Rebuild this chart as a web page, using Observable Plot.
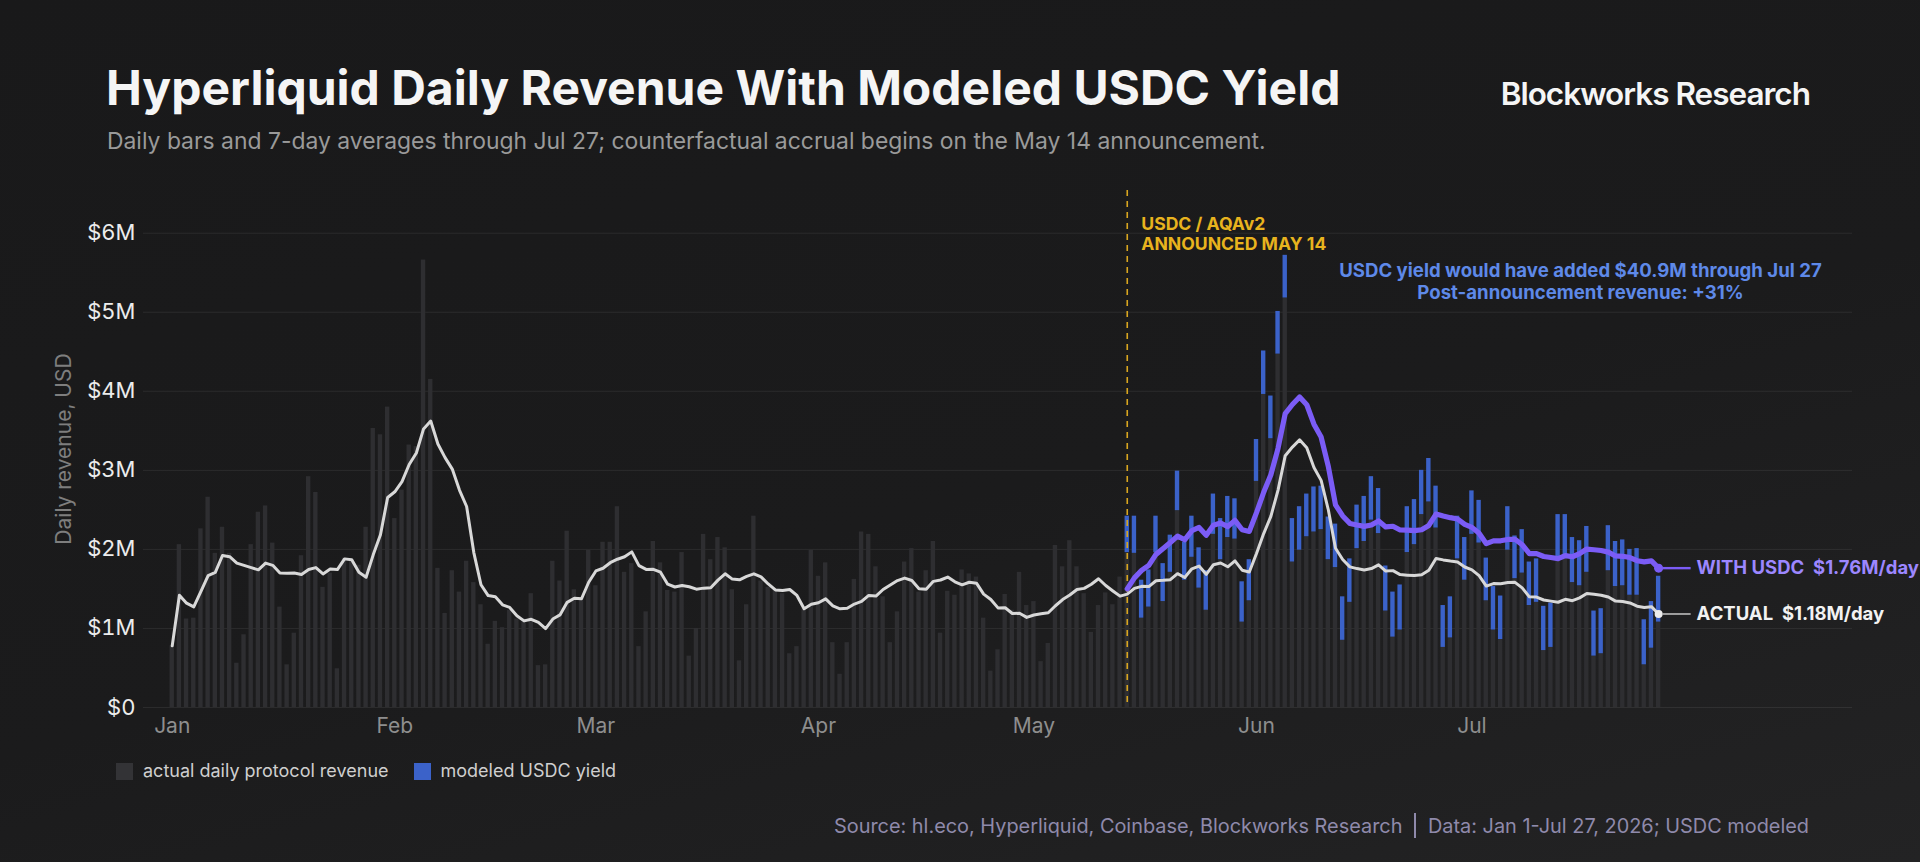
<!DOCTYPE html>
<html>
<head>
<meta charset="utf-8">
<script src="https://cdn.jsdelivr.net/npm/d3@7"></script>
<script src="https://cdn.jsdelivr.net/npm/@observablehq/plot@0.6"></script>
<style>
html, body { margin: 0; padding: 0; }
body {
  width: 1920px; height: 862px; overflow: hidden;
  background: linear-gradient(165deg, #19191a 0%, #1b1b1c 55%, #232324 100%);
  font-family: Inter, "Noto Sans", sans-serif;
}
#header { position: relative; height: 175px; }
.title { position: absolute; left: 106px; top: 64px; font-size: 48px; line-height: 48px; font-weight: 700; color: #f5f5f5; letter-spacing: 0px; white-space: nowrap; }
.subtitle { position: absolute; left: 107px; top: 130px; font-size: 22.9px; line-height: 23px; color: #9a9a9a; white-space: nowrap; }
.brand { position: absolute; right: 110px; top: 78px; font-size: 31.5px; line-height: 32px; font-weight: 600; color: #f5f5f5; letter-spacing: -1px; white-space: nowrap; }
#chart svg { display: block; }
#footer { position: relative; height: 115px; }
.legend { position: absolute; left: 116px; top: 13px; display: flex; align-items: center; font-size: 18px; line-height: 22px; color: #cfcfcf; white-space: nowrap; }
.swatch { width: 17px; height: 17px; display: inline-block; margin-right: 10px; }
.legend .item { display: flex; align-items: center; margin-right: 25px; }
.source { position: absolute; right: 111px; top: 66px; font-size: 19.9px; line-height: 24px; color: #8f8aab; display: flex; align-items: center; white-space: nowrap; }
.sep { display: inline-block; width: 1.5px; height: 25px; background: #8f8aab; margin: 0 12px; }
</style>
</head>
<body>
<div id="header">
  <div class="title">Hyperliquid Daily Revenue With Modeled USDC Yield</div>
  <div class="subtitle">Daily bars and 7-day averages through Jul 27; counterfactual accrual begins on the May 14 announcement.</div>
  <div class="brand">Blockworks Research</div>
</div>
<div id="chart"></div>
<div id="footer">
  <div class="legend">
    <div class="item"><span class="swatch" style="background:#333336"></span>actual daily protocol revenue</div>
    <div class="item"><span class="swatch" style="background:#3b62c9"></span>modeled USDC yield</div>
  </div>
  <div class="source">Source: hl.eco, Hyperliquid, Coinbase, Blockworks Research<span class="sep"></span>Data: Jan 1-Jul 27, 2026; USDC modeled</div>
</div>
<script>
// ---- data (USD millions) ----
const startDay = "2026-01-01";
const announceDay = "2026-05-14";

// actual daily protocol revenue, Jan 1 – Jul 27
const actualDaily = [
  0.78, 2.06, 1.12, 1.13, 2.26, 2.66, 1.95, 2.28, 1.95, 0.56,
  0.92, 2.06, 2.47, 2.55, 2.08, 1.27, 0.54, 0.94, 1.92, 2.92,
  2.72, 1.52, 1.70, 0.49, 1.89, 1.85, 1.80, 2.28, 3.53, 3.45,
  3.80, 2.39, 2.75, 3.32, 3.30, 5.66, 4.15, 1.76, 1.19, 1.73,
  1.46, 1.85, 1.58, 1.30, 0.80, 1.09, 1.01, 1.23, 1.12, 1.12,
  1.44, 0.53, 0.54, 1.85, 1.60, 2.23, 1.49, 1.39, 1.99, 1.54,
  2.09, 2.09, 2.54, 1.71, 1.82, 0.77, 1.21, 2.10, 1.83, 1.48,
  1.46, 1.96, 0.65, 1.00, 2.19, 1.87, 2.15, 2.02, 1.49, 0.59,
  1.30, 2.42, 1.60, 1.52, 1.49, 1.44, 0.68, 0.77, 1.25, 1.99,
  1.66, 1.83, 0.82, 0.42, 0.82, 1.62, 2.22, 2.19, 1.78, 1.40,
  0.82, 1.21, 1.84, 2.01, 1.46, 1.73, 2.10, 0.94, 1.47, 1.42,
  1.74, 1.69, 1.65, 1.13, 0.46, 0.73, 1.43, 1.23, 1.71, 1.29,
  1.34, 0.58, 0.81, 2.05, 1.78, 2.11, 1.78, 1.44, 0.95, 1.29,
  1.45, 1.30, 1.65, 1.96, 1.95, 1.13, 1.27, 1.96, 1.34, 1.71,
  2.49, 1.61, 1.90, 1.51, 1.23, 2.19, 1.87, 2.15, 2.13, 1.08,
  1.35, 2.86, 3.96, 3.40, 4.47, 5.18, 1.84, 1.99, 2.16, 2.22,
  2.25, 1.87, 1.77, 0.85, 1.33, 2.01, 2.10, 2.37, 2.20, 1.22,
  0.89, 0.98, 1.96, 2.06, 2.44, 2.60, 2.27, 0.76, 0.88, 1.88,
  1.61, 2.19, 2.08, 1.35, 0.98, 0.86, 1.99, 1.63, 1.70, 1.29,
  1.33, 0.72, 0.76, 1.89, 1.89, 1.58, 1.54, 1.71, 0.65, 0.68,
  1.73, 1.53, 1.54, 1.42, 1.42, 0.54, 0.75, 1.08
];

// modeled USDC yield, May 14 – Jul 27
const usdcYield = [
  0.46, 0.47, 0.48, 0.47, 0.46, 0.48, 0.47, 0.50, 0.48, 0.52,
  0.51, 0.50, 0.51, 0.52, 0.52, 0.51, 0.51, 0.52, 0.53, 0.55,
  0.54, 0.54, 0.54, 0.55, 0.55, 0.54, 0.57, 0.55, 0.54, 0.55,
  0.55, 0.55, 0.55, 0.57, 0.55, 0.57, 0.57, 0.57, 0.57, 0.58,
  0.57, 0.56, 0.55, 0.53, 0.53, 0.52, 0.54, 0.54, 0.55, 0.54,
  0.54, 0.55, 0.55, 0.55, 0.54, 0.55, 0.55, 0.55, 0.56, 0.56,
  0.55, 0.55, 0.57, 0.57, 0.58, 0.57, 0.57, 0.57, 0.57, 0.58,
  0.58, 0.59, 0.57, 0.59, 0.58
];

const monthTicks = ["2026-01-01", "2026-02-01", "2026-03-01", "2026-04-01", "2026-05-01", "2026-06-01", "2026-07-01"];
const yTicks = [0, 1, 2, 3, 4, 5, 6];
const xDomain = ["2025-12-28", "2026-08-23"];
const yDomain = [0, 6.54];

const announceNote = "USDC / AQAv2\nANNOUNCED MAY 14";
const summaryNote = "USDC yield would have added $40.9M through Jul 27\nPost-announcement revenue: +31%";

// ---- derived table ----
const start = new Date(startDay);
const ann = new Date(announceDay);
const annIdx = d3.utcDay.count(start, ann);
const rows = actualDaily.map((v, i) => {
  const date = d3.utcDay.offset(start, i);
  const y = i >= annIdx ? usdcYield[i - annIdx] : 0;
  return {date, actual: v, yld: y, total: v + y};
});
rows.forEach((r, i) => {
  const w = rows.slice(Math.max(0, i - 6), i + 1);
  r.avgActual = d3.mean(w, d => d.actual);
  r.avgTotal = d3.mean(w, d => d.total);
});
const post = rows.filter(r => r.date >= ann);
const last = rows[rows.length - 1];
const left = d => d3.utcHour.offset(d.date, -12);
const right = d => d3.utcHour.offset(d.date, 12);

const chart = Plot.plot({
  width: 1920,
  height: 572,
  marginLeft: 143,
  marginRight: 68,
  marginTop: 15,
  marginBottom: 40,
  style: {background: "transparent", color: "#e6e6e6", fontFamily: "Inter, sans-serif", overflow: "visible"},
  x: {type: "utc", domain: xDomain.map(d => new Date(d))},
  y: {domain: yDomain},
  marks: [
    Plot.gridY(yTicks, {stroke: "#ffffff", strokeOpacity: 0.075, strokeWidth: 1}),
    Plot.axisY({ticks: yTicks, tickFormat: d => d === 0 ? "$0" : `$${d}M`, tickSize: 0, tickPadding: 8, fontSize: 22, color: "#ececec", label: null}),
    Plot.axisX({ticks: monthTicks.map(d => new Date(d)), tickFormat: d3.utcFormat("%b"), tickSize: 0, tickPadding: 11, fontSize: 21, color: "#8e8e8e", label: null}),
    Plot.text(["Daily revenue, USD"], {frameAnchor: "left", rotate: -90, dx: -79, textAnchor: "middle", fontSize: 21, fill: "#7e7e7e"}),
    Plot.rectY(rows, {x1: left, x2: right, y: "actual", fill: "#2e2e31", insetLeft: 1.4, insetRight: 1.4}),
    Plot.rectY(post, {x1: left, x2: right, y1: "actual", y2: "total", fill: "#3b62c9", insetLeft: 1.4, insetRight: 1.4}),
    Plot.ruleX([ann], {stroke: "#d9a620", strokeWidth: 1.6, strokeDasharray: "6,5"}),
    Plot.text([ann], {x: d => d, frameAnchor: "top", text: () => announceNote, textAnchor: "start", lineAnchor: "top", dx: 14, dy: 26, lineHeight: 1.1, fontSize: 17.6, fontWeight: 700, fill: "#e8b31e"}),
    Plot.text([summaryNote], {frameAnchor: "top-right", textAnchor: "middle", lineAnchor: "top", dx: -272, dy: 71, lineHeight: 1.18, fontSize: 18.6, fontWeight: 700, fill: "#5e89e8"}),
    Plot.lineY(rows, {x: "date", y: "avgActual", stroke: "#d8d8d8", strokeWidth: 3, strokeLinejoin: "round"}),
    Plot.lineY(post, {x: "date", y: "avgTotal", stroke: "#7b5cf6", strokeWidth: 5.2, strokeLinejoin: "round", strokeLinecap: "round"}),
    Plot.link([last], {x1: d => d3.utcHour.offset(d.date, 13), x2: d => d3.utcHour.offset(d.date, 107), y1: "avgTotal", y2: "avgTotal", stroke: "#7b5cf6", strokeWidth: 2.4}),
    Plot.link([last], {x1: d => d3.utcHour.offset(d.date, 13), x2: d => d3.utcHour.offset(d.date, 107), y1: "avgActual", y2: "avgActual", stroke: "#bdbdbd", strokeWidth: 1.6}),
    Plot.dot([last], {x: "date", y: "avgTotal", r: 4.5, fill: "#7b5cf6"}),
    Plot.dot([last], {x: "date", y: "avgActual", r: 4, fill: "#ececec"}),
    Plot.text([last], {x: "date", y: "avgTotal", text: d => `WITH USDC\u00a0 $${d.avgTotal.toFixed(2)}M/day`, dx: 38, textAnchor: "start", fontSize: 18.5, fontWeight: 700, fill: "#9c87ff"}),
    Plot.text([last], {x: "date", y: "avgActual", text: d => `ACTUAL\u00a0 $${d.avgActual.toFixed(2)}M/day`, dx: 38, textAnchor: "start", fontSize: 18.5, fontWeight: 700, fill: "#f2f2f2"})
  ]
});
document.getElementById("chart").append(chart);
</script>
</body>
</html>
